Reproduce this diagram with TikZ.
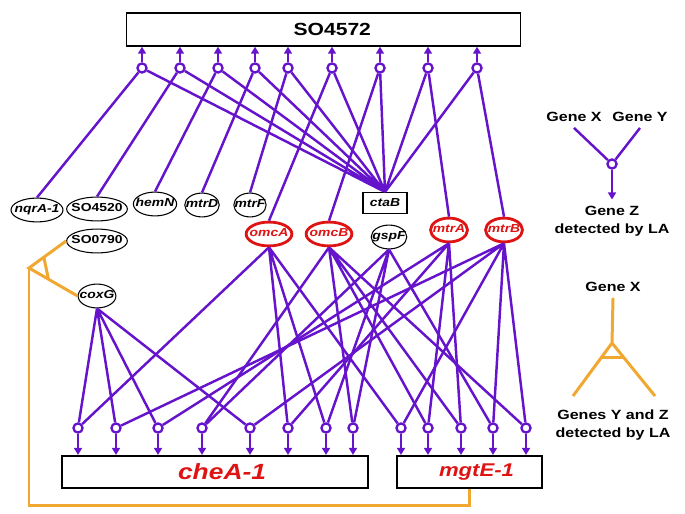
\documentclass[tikz,border=0pt]{standalone}
\usepackage{fontspec}
\setmainfont{Liberation Sans}[FakeStretch=1.2]
\usetikzlibrary{arrows.meta,shapes.geometric,calc}
\definecolor{lapurple}{RGB}{102,20,204}
\definecolor{laorange}{RGB}{240,168,48}
\definecolor{lared}{RGB}{222,20,20}
\tikzset{
  gene/.style={draw,ellipse,line width=0.6pt,inner xsep=-2.3pt,inner ysep=1.7pt,text height=4.8pt,text depth=1.4pt,font=\fontsize{6.6}{7}\selectfont\bfseries\itshape},
  sogene/.style={gene,font=\fontsize{6.6}{7}\selectfont\bfseries},
  keygene/.style={gene,draw=lared,text=lared,line width=1.6pt,inner xsep=-1.8pt,inner ysep=1.7pt},
  hub/.style={draw=lapurple,circle,fill=white,line width=1.3pt,minimum size=5.2pt,inner sep=0pt},
  link/.style={draw=lapurple,line width=1.4pt},
  feed/.style={link,-{Triangle[length=4pt,width=4.5pt]}},
  split/.style={draw=laorange,line width=1.7pt},
  target/.style={draw,rectangle,line width=0.8pt,inner sep=0pt},
  note/.style={font=\fontsize{7.6}{10.5}\selectfont\bfseries,align=center}
}
\begin{document}
\begin{tikzpicture}[x=0.02cm,y=-0.02cm]
\useasboundingbox (0,0) rectangle (685,513);

\node[target,minimum width=394*0.02cm,minimum height=33*0.02cm,font=\fontsize{10}{11}\selectfont\bfseries] (so4572) at (323.5,29.5) {\hspace{10pt}SO4572};
\node[target,minimum width=306*0.02cm,minimum height=32*0.02cm,line width=1.2pt,text=lared,font=\fontsize{12.5}{14}\selectfont\bfseries\itshape] (chea) at (215,472) {\hspace{8pt}cheA-1};
\node[target,minimum width=145*0.02cm,minimum height=32*0.02cm,line width=1.2pt,text=lared,font=\fontsize{10.5}{12}\selectfont\bfseries\itshape] (mgte) at (469.5,472) {\hspace{8pt}mgtE-1};

\node[gene] (nqra) at (37,210) {nqrA-1};
\node[sogene] (so4520) at (97,209) {SO4520};
\node[gene] (hemn) at (155,204) {hemN};
\node[gene] (mtrd) at (202,205) {mtrD};
\node[gene] (mtrf) at (250,205) {mtrF};
\node[target,line width=0.6pt,minimum width=44*0.02cm,minimum height=21*0.02cm,font=\fontsize{6.6}{7}\selectfont\bfseries\itshape] (ctab) at (385,203) {ctaB};
\node[sogene] (so0790) at (97,241) {SO0790};
\node[gene] (coxg) at (97,296) {coxG};
\node[keygene] (omca) at (269,234) {omcA};
\node[keygene] (omcb) at (329,234) {omcB};
\node[gene] (gspf) at (389,237) {gspF};
\node[keygene] (mtra) at (449,230) {mtrA};
\node[keygene] (mtrb) at (504,230) {mtrB};

\node[hub] (t1) at (142,68) {};
\node[hub] (t2) at (180,68) {};
\node[hub] (t3) at (218,68) {};
\node[hub] (t4) at (255,68) {};
\node[hub] (t5) at (288,68) {};
\node[hub] (t6) at (332,68) {};
\node[hub] (t7) at (380,68) {};
\node[hub] (t8) at (428,68) {};
\node[hub] (t9) at (477,68) {};

\node[hub] (b1) at (78,428) {};
\node[hub] (b2) at (116,428) {};
\node[hub] (b3) at (158,428) {};
\node[hub] (b4) at (202,428) {};
\node[hub] (b5) at (250,428) {};
\node[hub] (b6) at (288,428) {};
\node[hub] (b7) at (326,428) {};
\node[hub] (b8) at (353,428) {};
\node[hub] (b9) at (401,428) {};
\node[hub] (b10) at (428,428) {};
\node[hub] (b11) at (461,428) {};
\node[hub] (b12) at (493,428) {};
\node[hub] (b13) at (526,428) {};

\draw[feed] (t1.north) -- (t1.north |- so4572.south);
\draw[feed] (t2.north) -- (t2.north |- so4572.south);
\draw[feed] (t3.north) -- (t3.north |- so4572.south);
\draw[feed] (t4.north) -- (t4.north |- so4572.south);
\draw[feed] (t5.north) -- (t5.north |- so4572.south);
\draw[feed] (t6.north) -- (t6.north |- so4572.south);
\draw[feed] (t7.north) -- (t7.north |- so4572.south);
\draw[feed] (t8.north) -- (t8.north |- so4572.south);
\draw[feed] (t9.north) -- (t9.north |- so4572.south);

\draw[link] (nqra.north) -- (t1) (so4520.north) -- (t2) (hemn.north) -- (t3)
  (mtrd.north) -- (t4) (mtrf.north) -- (t5) (omca.north) -- (t6)
  (omcb.north) -- (t7) (mtra.north) -- (t8) (mtrb.north) -- (t9);
\draw[link] (ctab.north) -- (t1) (ctab.north) -- (t2) (ctab.north) -- (t3)
  (ctab.north) -- (t4) (ctab.north) -- (t5) (ctab.north) -- (t6)
  (ctab.north) -- (t7) (ctab.north) -- (t8) (ctab.north) -- (t9);

\draw[link] (coxg.south) -- (b1) (coxg.south) -- (b2) (coxg.south) -- (b3) (coxg.south) -- (b5);
\draw[link] (omca.south) -- (b1) (omca.south) -- (b6) (omca.south) -- (b7) (omca.south) -- (b9);
\draw[link] (omcb.south) -- (b4) (omcb.south) -- (b8) (omcb.south) -- (b10) (omcb.south) -- (b11) (omcb.south) -- (b13);
\draw[link] (gspf.south) -- (b4) (gspf.south) -- (b7) (gspf.south) -- (b8) (gspf.south) -- (b12);
\draw[link] (mtra.south) -- (b3) (mtra.south) -- (b6) (mtra.south) -- (b10) (mtra.south) -- (b11);
\draw[link] (mtrb.south) -- (b2) (mtrb.south) -- (b5) (mtrb.south) -- (b9) (mtrb.south) -- (b12) (mtrb.south) -- (b13);

\draw[feed] (b1.south) -- (b1.south |- chea.north);
\draw[feed] (b2.south) -- (b2.south |- chea.north);
\draw[feed] (b3.south) -- (b3.south |- chea.north);
\draw[feed] (b4.south) -- (b4.south |- chea.north);
\draw[feed] (b5.south) -- (b5.south |- chea.north);
\draw[feed] (b6.south) -- (b6.south |- chea.north);
\draw[feed] (b7.south) -- (b7.south |- chea.north);
\draw[feed] (b8.south) -- (b8.south |- chea.north);
\draw[feed] (b9.south) -- (b9.south |- mgte.north);
\draw[feed] (b10.south) -- (b10.south |- mgte.north);
\draw[feed] (b11.south) -- (b11.south |- mgte.north);
\draw[feed] (b12.south) -- (b12.south |- mgte.north);
\draw[feed] (b13.south) -- (b13.south |- mgte.north);

\coordinate (fork) at (29,268);
\coordinate (corner) at (29,505);
\draw[split] (so0790.west) -- (fork) -- (coxg.west);
\draw[split] ($(fork)!0.4!(so0790.west)$) -- ($(fork)!0.4!(coxg.west)$);
\draw[split] (fork) -- (corner) -| (mgte.south);

\node[note] (keyx) at (574,117) {Gene X};
\node[note] (keyy) at (640,117) {Gene Y};
\node[hub] (keyhub) at (612,164) {};
\node[note] (keyz) at (612,221) {Gene Z\\detected by LA};
\draw[link] (keyx.south) -- (keyhub) (keyy.south) -- (keyhub);
\draw[feed] (keyhub) -- (keyz);

\node[note] (splitx) at (613,287) {Gene X};
\coordinate (apex) at (612,343);
\coordinate (endy) at (573,396);
\coordinate (endz) at (655,396);
\draw[split] (splitx.south) -- (apex) -- (endy) (apex) -- (endz);
\draw[split] ($(apex)!0.28!(endy)$) -- ($(apex)!0.28!(endz)$);
\node[note] (splityz) at (613,425) {Genes Y and Z\\detected by LA};
\end{tikzpicture}
\end{document}
